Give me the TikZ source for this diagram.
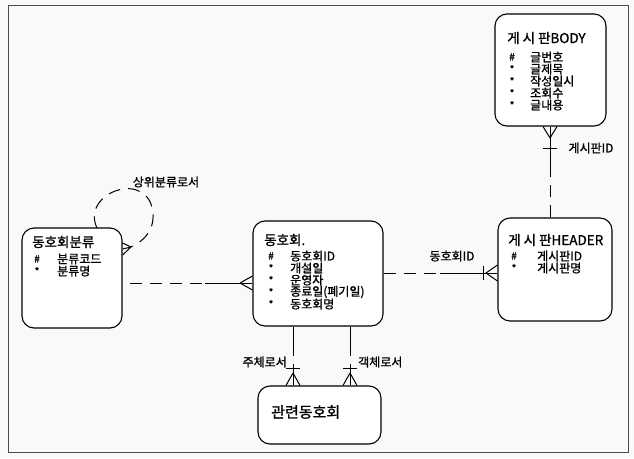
\documentclass[tikz,border=0pt]{standalone}
\usepackage{fontspec}
\setmainfont{Noto Sans CJK KR}[FakeBold=1.2]
\begin{document}
\begin{tikzpicture}[x=1pt,y=-1pt,
  ent/.style={draw, line width=1.1pt, rounded corners=12pt, fill=white, inner sep=0pt},
  ttl/.style={anchor=west, inner sep=0pt, font=\fontsize{13.5}{13.5}\selectfont},
  att/.style={anchor=west, inner sep=0pt, font=\fontsize{12}{12}\selectfont},
  mk/.style={anchor=center, inner sep=0pt, font=\fontsize{10}{10}\selectfont},
  lbl/.style={inner sep=0pt, font=\fontsize{12}{12}\selectfont},
  rel/.style={line width=1pt},
  reldash/.style={line width=1pt, dash pattern=on 12pt off 8pt}]
% background and frame
\fill[white!95!gray] (0,0) rectangle (634,458);
\draw[line width=0.8pt, black!70] (8,5) rectangle (628,452);

% entities
\node[ent, minimum width=100pt, minimum height=100pt] (cat) at (72,278) {};
\node[ent, minimum width=130pt, minimum height=105pt] (club) at (318,273.5) {};
\node[ent, minimum width=114pt, minimum height=103pt] (head) at (555,269.5) {};
\node[ent, minimum width=111pt, minimum height=112pt] (body) at (550.5,70) {};
\node[ent, minimum width=123pt, minimum height=58pt] (rel) at (319.5,415) {};

% texts: 동호회분류
\node[ttl] (catT) at (32,242) {동호회분류};
\node[mk] (catm1) at (37,259) {\#};
\node[att] (cata1) at (57,259) {분류코드};
\node[mk] (catm2) at (37,271) {*};
\node[att] (cata2) at (57,271) {분류명};

% 동호회
\node[ttl] (clubT) at (264,240) {동호회.};
\node[mk] (clubm1) at (271,256) {\#};
\node[att] (cluba1) at (290,256) {동호회ID};
\node[mk] (clubm2) at (271,268) {*};
\node[att] (cluba2) at (290,268) {개설일};
\node[mk] (clubm3) at (271,280) {*};
\node[att] (cluba3) at (290,280) {운영자};
\node[mk] (clubm4) at (271,292) {*};
\node[att] (cluba4) at (290,292) {종료일(폐기일)};
\node[mk] (clubm5) at (271,304) {*};
\node[att] (cluba5) at (290,304) {동호회명};

% 게시판HEADER
\node[ttl] (headT) at (508,240) {게 시 판HEADER};
\node[mk] (headm1) at (514,256) {\#};
\node[att] (heada1) at (537,256) {게시판ID};
\node[mk] (headm2) at (514,268) {*};
\node[att] (heada2) at (537,268) {게시판명};

% 게시판BODY
\node[ttl] (bodyT) at (507,38) {게 시 판BODY};
\node[mk] (bodym1) at (512,57) {\#};
\node[att] (bodya1) at (530,57) {글번호};
\node[mk] (bodym2) at (512,69) {*};
\node[att] (bodya2) at (530,69) {글제목};
\node[mk] (bodym3) at (512,81) {*};
\node[att] (bodya3) at (530,81) {작성일시};
\node[mk] (bodym4) at (512,93) {*};
\node[att] (bodya4) at (530,93) {조회수};
\node[mk] (bodym5) at (512,105) {*};
\node[att] (bodya5) at (530,105) {글내용};

% 관련동호회
\node[ttl, font=\fontsize{15}{15}\selectfont] (relT) at (271,412) {관련동호회};

% ---------- connectors ----------
% 동호회분류 -- 동호회
\coordinate (c1a) at (130,283);
\coordinate (c1m) at (205,283);
\coordinate (c1f) at (240,283);
\draw[reldash] (c1a) -- (c1m);
\draw[rel] (c1m) -- (club.west |- c1m);
\draw[rel] (c1f) -- ([yshift=-7pt]club.west |- c1f)
           (c1f) -- ([yshift=7pt]club.west |- c1f);

% 동호회 -- 게시판HEADER
\coordinate (c2a) at (club.east |- 0,273);
\coordinate (c2m) at (440,273);
\coordinate (c2f) at (486,273);
\draw[reldash] (c2a) -- (c2m);
\draw[rel] (c2m) -- (head.west |- c2m);
\draw[rel] (c2f) -- ([yshift=-8pt]head.west |- c2f)
           (c2f) -- ([yshift=8pt]head.west |- c2f);
\draw[rel] (483,266) -- (483,280);

% 게시판HEADER -- 게시판BODY
\coordinate (c3a) at (head.north -| 550,0);
\coordinate (c3m) at (550,170);
\coordinate (c3f) at (550,138);
\draw[reldash] (c3a) -- (c3m);
\draw[rel] (c3m) -- (body.south -| c3m);
\draw[rel] (c3f) -- ([xshift=-7pt]body.south -| c3f)
           (c3f) -- ([xshift=7pt]body.south -| c3f);
\draw[rel] (543,148) -- (557,148);

% 동호회 -- 관련동호회 (두 관계)
\foreach \xx/\nm in {293/s, 350/o}{
  \coordinate (\nm a) at (club.south -| \xx,0);
  \coordinate (\nm m) at (\xx,356);
  \coordinate (\nm g) at (\xx,364);
  \coordinate (\nm f) at (\xx,373);
  \draw[rel] (\nm a) -- (\nm m);
  \draw[rel] (\nm g) -- (rel.north -| \nm g);
  \draw[rel] (\nm f) -- ([xshift=-7pt]rel.north -| \nm f)
             (\nm f) -- ([xshift=7pt]rel.north -| \nm f);
  \draw[rel] ([xshift=-7pt]\nm g |- 0,368) -- ([xshift=7pt]\nm g |- 0,368);
}

% self-loop on 동호회분류
\coordinate (l1) at (97,228);
\coordinate (l2) at (131,247);
\draw[reldash] (l1) .. controls (80,192) and (150,168) .. (153,214)
      .. controls (154,232) and (142,242) .. (l2);
\draw[rel] (l2) -- (cat.east |- 0,243)
           (l2) -- (cat.east |- 0,249)
           (l2) -- (cat.east |- 0,255);

% labels
\node[lbl] (lab1) at (166,182) {상위분류로서};
\node[lbl] (lab2) at (452,256) {동호회ID};
\node[lbl] (lab3) at (591,148) {게시판ID};
\node[lbl, anchor=east] (lab4) at (287,362) {주체로서};
\node[lbl, anchor=west] (lab5) at (358,362) {객체로서};
\end{tikzpicture}
\end{document}
